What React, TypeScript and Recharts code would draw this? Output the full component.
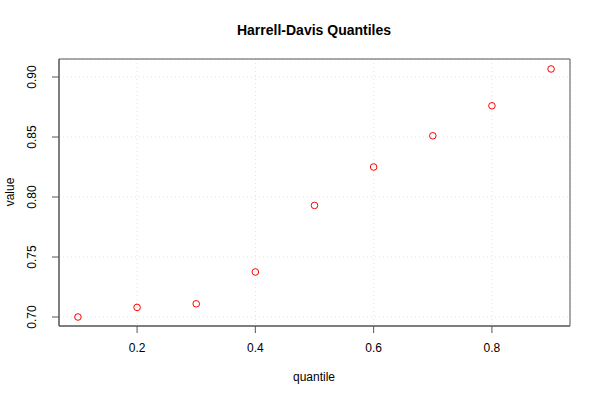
import React from 'react'
import {
  ScatterChart,
  Scatter,
  XAxis,
  YAxis,
  CartesianGrid,
  ReferenceArea,
} from 'recharts'

const quantiles = [0.1, 0.2, 0.3, 0.4, 0.5, 0.6, 0.7, 0.8, 0.9]
const values = [0.7, 0.708, 0.711, 0.7375, 0.793, 0.825, 0.851, 0.876, 0.9067]
const xTicks = [0.2, 0.4, 0.6, 0.8]
const yTicks = [0.7, 0.75, 0.8, 0.85, 0.9]

const data = quantiles.map((q, i) => ({ q, v: values[i] }))

const X_DOMAIN = [0.068, 0.932]
const Y_DOMAIN = [0.6925, 0.915]
const FONT = '"Liberation Sans", Arial, sans-serif'

// y tick labels are rotated like R's default las=0
function YTick(props: any) {
  const { x, y, payload } = props
  return (
    <text
      x={x - 14}
      y={y}
      transform={`rotate(-90 ${x - 14} ${y})`}
      textAnchor="middle"
      fontSize={12}
      fontFamily={FONT}
      fill="#000"
    >
      {payload.value.toFixed(2)}
    </text>
  )
}

function XTick(props: any) {
  const { x, y, payload } = props
  return (
    <text x={x} y={y + 17} textAnchor="middle" fontSize={12} fontFamily={FONT} fill="#000">
      {payload.value.toFixed(1)}
    </text>
  )
}

function OpenCircle(props: any) {
  const { cx, cy } = props
  return <circle cx={cx} cy={cy} r={3.3} fill="none" stroke="#ff0000" strokeWidth={1} />
}

export default function App() {
  return (
    <div style={{ position: 'absolute', left: 0, top: 0, width: 600, height: 400, background: '#fff' }}>
      <svg width={600} height={400} style={{ position: 'absolute', left: 0, top: 0, pointerEvents: 'none' }}>
        <text x={314} y={35} textAnchor="middle" fontSize={14} fontWeight="bold" fontFamily={FONT}>
          Harrell-Davis Quantiles
        </text>
        <text x={314} y={381} textAnchor="middle" fontSize={12} fontFamily={FONT}>
          quantile
        </text>
        <text x={14} y={192} transform="rotate(-90 14 192)" textAnchor="middle" fontSize={12} fontFamily={FONT}>
          value
        </text>
      </svg>
      <ScatterChart
        width={600}
        height={400}
        margin={{ top: 59, right: 30, left: 0, bottom: 0 }}
        style={{ position: 'absolute', left: 0, top: 0 }}
      >
        <CartesianGrid xAxisId="b" yAxisId="l" stroke="#e2e2e2" strokeDasharray="1 3" />
        <XAxis
          xAxisId="b"
          type="number"
          dataKey="q"
          domain={X_DOMAIN}
          ticks={xTicks}
          height={74}
          tick={<XTick />}
          tickSize={7}
          tickLine={{ stroke: '#555' }}
          axisLine={{ stroke: '#555' }}
          allowDataOverflow
        />
        <YAxis
          yAxisId="l"
          type="number"
          dataKey="v"
          domain={Y_DOMAIN}
          ticks={yTicks}
          width={59}
          tick={<YTick />}
          tickSize={7}
          tickLine={{ stroke: '#555' }}
          axisLine={{ stroke: '#555' }}
          allowDataOverflow
        />
        <ReferenceArea
          xAxisId="b"
          yAxisId="l"
          x1={X_DOMAIN[0]}
          x2={X_DOMAIN[1]}
          y1={Y_DOMAIN[0]}
          y2={Y_DOMAIN[1]}
          fill="none"
          stroke="#555"
          strokeWidth={1}
          ifOverflow="visible"
        />
        <Scatter
          data={data}
          xAxisId="b"
          yAxisId="l"
          shape={<OpenCircle />}
          isAnimationActive={false}
        />
      </ScatterChart>
    </div>
  )
}
